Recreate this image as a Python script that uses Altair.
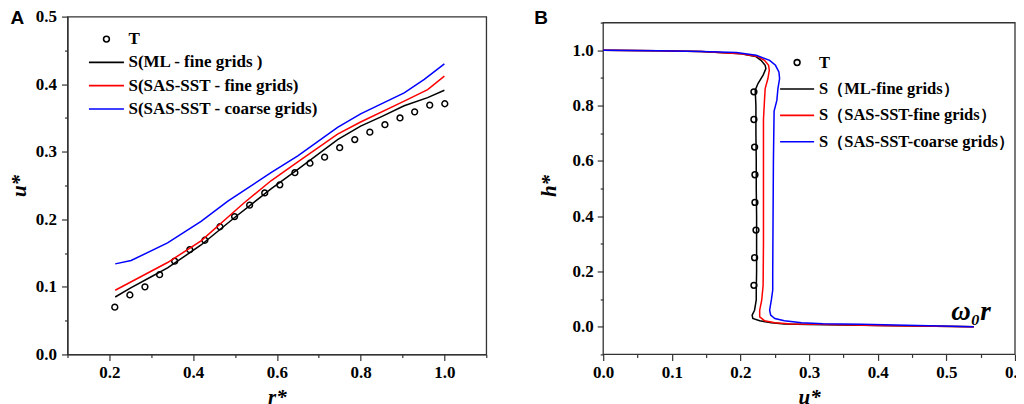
import altair as alt
import pandas as pd

SERIF = "Liberation Serif"
SANS = "Liberation Sans"

A_NAMES = ["T", "S(ML - fine grids )", "S(SAS-SST - fine grids)", "S(SAS-SST - coarse grids)"]
B_NAMES = ["T", "S（ML-fine grids）", "S（SAS-SST-fine grids）", "S（SAS-SST-coarse grids）"]
SERIES_COLORS = ["#000000", "#000000", "#ff0000", "#0000ff"]

# ---------------- Panel A : u* vs r* ----------------
A_T_R = [0.213, 0.249, 0.285, 0.320, 0.356, 0.392, 0.428, 0.464, 0.499, 0.535, 0.571, 0.607,
         0.643, 0.679, 0.714, 0.750, 0.786, 0.822, 0.858, 0.894, 0.929, 0.965, 1.001]
A_T_U = [0.070, 0.088, 0.100, 0.118, 0.138, 0.155, 0.169, 0.189, 0.204, 0.221, 0.239, 0.251,
         0.269, 0.283, 0.292, 0.306, 0.318, 0.329, 0.340, 0.350, 0.359, 0.369, 0.371]

A_ML_R = [0.214, 0.250, 0.300, 0.339, 0.419, 0.500, 0.586, 0.650, 0.745, 0.800, 0.850, 0.904, 0.960, 1.000]
A_ML_U = [0.085, 0.098, 0.115, 0.128, 0.162, 0.203, 0.245, 0.274, 0.318, 0.338, 0.352, 0.368, 0.380, 0.391]

A_SF_R = [0.214, 0.339, 0.419, 0.522, 0.586, 0.650, 0.745, 0.800, 0.904, 0.960, 1.000]
A_SF_U = [0.095, 0.136, 0.168, 0.2245, 0.257, 0.285, 0.326, 0.344, 0.375, 0.392, 0.412]

A_SC_R = [0.214, 0.252, 0.339, 0.419, 0.483, 0.586, 0.650, 0.745, 0.800, 0.904, 0.952, 1.000]
A_SC_U = [0.134, 0.139, 0.165, 0.197, 0.227, 0.269, 0.294, 0.336, 0.356, 0.387, 0.407, 0.430]

A_X_DOMAIN = [0.1, 1.1]
A_Y_DOMAIN = [0.0, 0.5]
A_X_TICKS = [0.1, 0.2, 0.3, 0.4, 0.5, 0.6, 0.7, 0.8, 0.9, 1.0, 1.1]
A_Y_TICKS = [0.0, 0.05, 0.1, 0.15, 0.2, 0.25, 0.3, 0.35, 0.4, 0.45, 0.5]

# ---------------- Panel B : h* vs u* ----------------
B_T_U = [0.2196, 0.2196, 0.2206, 0.2211, 0.2211, 0.2226, 0.2206, 0.2196]
B_T_H = [0.85, 0.75, 0.65, 0.55, 0.45, 0.35, 0.25, 0.15]

B_ML_U = [0.000, 0.080, 0.143, 0.201, 0.222, 0.230, 0.236, 0.237, 0.233, 0.2255, 0.2215, 0.2225,
          0.2225, 0.223, 0.223, 0.2235, 0.2235, 0.2235, 0.223, 0.223, 0.2205, 0.217, 0.218, 0.228,
          0.245, 0.264, 0.300, 0.400, 0.540]
B_ML_H = [1.000, 0.999, 0.996, 0.988, 0.978, 0.964, 0.946, 0.934, 0.910, 0.880, 0.856, 0.800,
          0.700, 0.600, 0.500, 0.400, 0.300, 0.200, 0.130, 0.097, 0.060, 0.042, 0.030, 0.022,
          0.0145, 0.010, 0.008, 0.005, 0.000]

B_SF_U = [0.000, 0.080, 0.143, 0.201, 0.225, 0.235, 0.241, 0.242, 0.240, 0.236, 0.235, 0.2335,
          0.2335, 0.2335, 0.2335, 0.233, 0.231, 0.228, 0.228, 0.235, 0.250, 0.274, 0.313, 0.400, 0.540]
B_SF_H = [1.000, 0.999, 0.996, 0.988, 0.978, 0.964, 0.946, 0.928, 0.898, 0.862, 0.819, 0.750,
          0.600, 0.450, 0.300, 0.150, 0.097, 0.060, 0.036, 0.022, 0.0145, 0.010, 0.009, 0.005, 0.000]

B_SC_U = [0.000, 0.080, 0.143, 0.194, 0.223, 0.2425, 0.251, 0.256, 0.257, 0.2546, 0.253, 0.249,
          0.248, 0.2475, 0.247, 0.247, 0.245, 0.2425, 0.244, 0.250, 0.264, 0.289, 0.320, 0.376, 0.540]
B_SC_H = [1.000, 0.999, 0.996, 0.992, 0.982, 0.964, 0.946, 0.922, 0.898, 0.862, 0.819, 0.780,
          0.600, 0.400, 0.200, 0.133, 0.097, 0.060, 0.042, 0.030, 0.022, 0.0145, 0.011, 0.009, 0.000]

B_X_DOMAIN = [0.0, 0.6]
B_Y_FRAME = [-0.1, 1.1]
B_Y_SCALE_TOP = 1.1222
B_X_TICKS = [0.0, 0.05, 0.1, 0.15, 0.2, 0.25, 0.3, 0.35, 0.4, 0.45, 0.5, 0.55, 0.6]
B_Y_TICKS = [-0.1, 0.0, 0.1, 0.2, 0.3, 0.4, 0.5, 0.6, 0.7, 0.8, 0.9, 1.0, 1.1]


def series_frame(xs, ys, name, xname, yname):
    return pd.DataFrame({xname: xs, yname: ys, "series": name, "idx": list(range(len(xs)))})


def axis(title, ticks, major, label_pad, title_pad, domain=True):
    return alt.Axis(
        title=title, values=ticks, grid=False, domain=domain,
        labelExpr="(" + major + ") ? format(datum.value, '.1f') : ''",
        tickSize={"condition": {"test": major, "value": 6}, "value": 3},
        labelFlush=False, labelOverlap=False,
        labelFont=SERIF, labelFontSize=17, labelFontWeight="bold", labelColor="black",
        labelPadding=label_pad,
        titleFont=SERIF, titleFontSize=21, titleFontWeight="bold", titleFontStyle="italic",
        titleColor="black", titlePadding=title_pad,
        domainColor="#333333", domainWidth=1.3, tickColor="#333333", tickWidth=1.2,
    )


def legend(x, y, size, offset, row_pad, font_size):
    return alt.Legend(
        title=None, orient="none", legendX=x, legendY=y, padding=0, rowPadding=row_pad,
        labelFont=SERIF, labelFontSize=font_size, labelFontWeight="bold", labelColor="black",
        labelLimit=0, labelOffset=offset, symbolSize=size, symbolStrokeWidth=1.6,
    )


def circle_path(r):
    return f"M{-r},0A{r},{r} 0 1,0 {r},0A{r},{r} 0 1,0 {-r},0Z"


def line_path(h):
    return f"M{-h},0L{h},0"


MULT01 = "abs(datum.value*10 - round(datum.value*10)) < 0.001"
MULT02 = "abs(datum.value*5 - round(datum.value*5)) < 0.001"

# ---------- build panel A ----------
A_SIZE = 462
a_pts = series_frame(A_T_R, A_T_U, A_NAMES[0], "r", "u")
a_lines = pd.concat([
    series_frame(A_ML_R, A_ML_U, A_NAMES[1], "r", "u"),
    series_frame(A_SF_R, A_SF_U, A_NAMES[2], "r", "u"),
    series_frame(A_SC_R, A_SC_U, A_NAMES[3], "r", "u"),
])
leg_a = legend(27, 10.5, A_SIZE, 10, 3.3, 17)
xa = alt.X("r:Q", scale=alt.Scale(domain=A_X_DOMAIN, nice=False, zero=False),
           axis=axis("r*", A_X_TICKS, MULT02 + " && datum.value > 0.15 && datum.value < 1.05", 4, 6))
ya = alt.Y("u:Q", scale=alt.Scale(domain=A_Y_DOMAIN, nice=False),
           axis=axis("u*", A_Y_TICKS, MULT01, 5, 6))
ca = alt.Color("series:N", scale=alt.Scale(domain=A_NAMES, range=SERIES_COLORS), legend=leg_a)
sa = alt.Shape("series:N", scale=alt.Scale(domain=A_NAMES, range=[circle_path(0.27)] + [line_path(1.63)] * 3),
               legend=leg_a)

a_points = alt.Chart(a_pts).mark_point(filled=False, size=A_SIZE, strokeWidth=1.5, opacity=1).encode(
    x=xa, y=ya, color=ca, shape=sa)
a_curves = alt.Chart(a_lines).mark_line(strokeWidth=1.5).encode(
    x=xa, y=ya, color=ca, order=alt.Order("idx:Q"))
a_tag = alt.Chart(pd.DataFrame({"t": ["A"]})).mark_text(
    align="left", baseline="top", font=SANS, fontSize=19, fontWeight="bold", color="black"
).encode(text="t:N", x=alt.value(-57), y=alt.value(-7.5))
panel_a = alt.layer(a_points, a_curves, a_tag).properties(width=419, height=338)

# ---------- build panel B ----------
B_SIZE = 600
b_pts = series_frame(B_T_U, B_T_H, B_NAMES[0], "u", "h")
b_lines = pd.concat([
    series_frame(B_ML_U, B_ML_H, B_NAMES[1], "u", "h"),
    series_frame(B_SF_U, B_SF_H, B_NAMES[2], "u", "h"),
    series_frame(B_SC_U, B_SC_H, B_NAMES[3], "u", "h"),
])
leg_b = legend(180.5, 32.5, B_SIZE, 8.5, 4.4, 16.5)
xb = alt.X("u:Q", scale=alt.Scale(domain=B_X_DOMAIN, nice=False, zero=False),
           axis=axis("u*", B_X_TICKS, MULT01, 4, 6, domain=False))
yb = alt.Y("h:Q", scale=alt.Scale(domain=[B_Y_FRAME[0], B_Y_SCALE_TOP], nice=False, zero=False),
           axis=axis("h*", B_Y_TICKS, MULT02 + " && datum.value >= 0 && datum.value < 1.05", 4, 12,
                     domain=False))
cb = alt.Color("series:N", scale=alt.Scale(domain=B_NAMES, range=SERIES_COLORS), legend=leg_b)
sb = alt.Shape("series:N", scale=alt.Scale(domain=B_NAMES, range=[circle_path(0.237)] + [line_path(1.39)] * 3),
               legend=leg_b)

b_frame = alt.Chart(pd.DataFrame({"u": [B_X_DOMAIN[0]], "u2": [B_X_DOMAIN[1]],
                                  "h": [B_Y_FRAME[0]], "h2": [B_Y_FRAME[1]]})).mark_rect(
    filled=False, stroke="#333333", strokeWidth=1.3
).encode(x=xb, x2="u2:Q", y=yb, y2="h2:Q")
b_points = alt.Chart(b_pts).mark_point(filled=False, size=B_SIZE, strokeWidth=1.5, opacity=1).encode(
    x=xb, y=yb, color=cb, shape=sb)
b_curves = alt.Chart(b_lines).mark_line(strokeWidth=1.5).encode(
    x=xb, y=yb, color=cb, order=alt.Order("idx:Q"))
b_note = alt.Chart(pd.DataFrame({"u": [0.536], "h": [0.055], "t": ["ω₀r"]})).mark_text(
    align="center", baseline="middle", font=SERIF, fontSize=27, fontWeight="bold",
    fontStyle="italic", color="black"
).encode(x=xb, y=yb, text="t:N")
b_tag = alt.Chart(pd.DataFrame({"t": ["B"]})).mark_text(
    align="left", baseline="top", font=SANS, fontSize=19, fontWeight="bold", color="black"
).encode(text="t:N", x=alt.value(-69), y=alt.value(-7.5))
panel_b = alt.layer(b_frame, b_points, b_curves, b_note, b_tag).properties(
    width=412, height=338, view=alt.ViewBackground(stroke="transparent"))

chart = alt.hconcat(panel_a, panel_b, spacing=45).resolve_scale(
    color="independent", shape="independent"
).configure_view(
    stroke="#333333", strokeWidth=1.3
).configure_axis(
    labelFont=SERIF, titleFont=SERIF
).properties(
    padding={"top": -1.5, "left": -0.5, "right": -11, "bottom": 0},
    background="white",
)

chart.save("out.html", embed_options={"renderer": "svg", "actions": False})
